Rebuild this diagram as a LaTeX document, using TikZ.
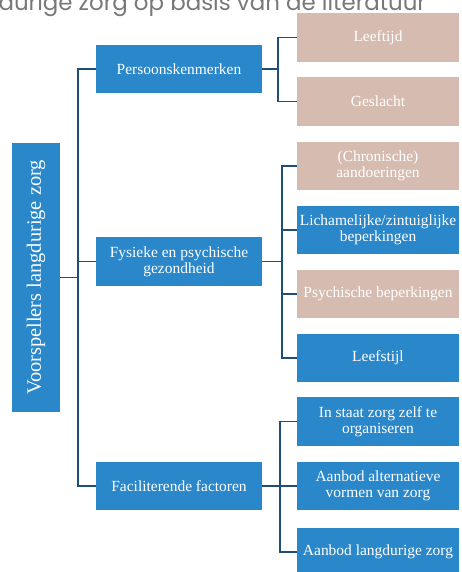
\documentclass[tikz,border=0pt]{standalone}
\usepackage{fontspec}
\setmainfont{Liberation Serif}
\newfontfamily\captionfont{Poppins}
\definecolor{boxblue}{RGB}{42,135,201}
\definecolor{boxtan}{RGB}{214,188,176}
\definecolor{linkblue}{RGB}{31,78,121}
\definecolor{captiongray}{RGB}{120,120,120}
\tikzset{
  factor/.style={fill=boxblue, text=white, align=center, inner sep=0pt,
    font=\fontsize{11}{11.5}\selectfont},
  rootbox/.style={factor, minimum width=1.2cm, minimum height=6.725cm,
    font=\fontsize{14.5}{15}\selectfont},
  groupbox/.style={factor, minimum width=4.15cm, minimum height=1.2cm},
  itembox/.style={factor, minimum width=4.05cm, minimum height=1.22cm},
  tanbox/.style={itembox, fill=boxtan},
  link/.style={draw=linkblue, line width=1.3pt}
}
\begin{document}
\begin{tikzpicture}[x=0.025cm, y=-0.025cm]
      \useasboundingbox (0,0) rectangle (461,572);
      \node[anchor=base east, text=captiongray, font=\captionfont\fontsize{16.3}{16}\selectfont] (title) at (431,11) {langdurige zorg op basis van de literatuur};
      % hoofdblok
      \node[rootbox] (root) at (36,277.5) {\rotatebox{90}{Voorspellers langdurige zorg}};
      % groepen
      \node[groupbox] (persoon) at (179,69) {Persoonskenmerken};
      \node[groupbox] (gezond) at (179,261.5) {Fysieke en psychische\\gezondheid};
      \node[groupbox] (facil) at (179,486) {Faciliterende factoren};
      % factoren
      \node[tanbox] (leeftijd) at (378,37.5) {Leeftijd};
      \node[tanbox] (geslacht) at (378,101.5) {Geslacht};
      \node[tanbox] (chronisch) at (378,166) {(Chronische)\\aandoeringen};
      \node[itembox] (lichaam) at (378,230) {Lichamelijke/zintuiglijke\\beperkingen};
      \node[tanbox] (psychisch) at (378,294) {Psychische beperkingen};
      \node[itembox] (leefstijl) at (378,358) {Leefstijl};
      \node[itembox] (zelf) at (378,421.5) {In staat zorg zelf te\\organiseren};
      \node[itembox] (alternatief) at (378,486) {Aanbod alternatieve\\vormen van zorg};
      \node[itembox] (aanbod) at (378,552) {Aanbod langdurige zorg};
      % verbindingen
      \draw[link] (root.east) -- ++(18,0) |- (persoon.west);
      \draw[link] (root.east) -- ++(18,0) |- (gezond.west);
      \draw[link] (root.east) -- ++(18,0) |- (facil.west);
      \draw[link] (persoon.east) -- ++(16,0) |- (leeftijd.west);
      \draw[link] (persoon.east) -- ++(16,0) |- (geslacht.west);
      \draw[link] (gezond.east) -- ++(20,0) |- (chronisch.west);
      \draw[link] (gezond.east) -- ++(20,0) |- (lichaam.west);
      \draw[link] (gezond.east) -- ++(20,0) |- (psychisch.west);
      \draw[link] (gezond.east) -- ++(20,0) |- (leefstijl.west);
      \draw[link] (facil.east) -- ++(18,0) |- (zelf.west);
      \draw[link] (facil.east) -- ++(18,0) |- (alternatief.west);
      \draw[link] (facil.east) -- ++(18,0) |- (aanbod.west);
\end{tikzpicture}
\end{document}
